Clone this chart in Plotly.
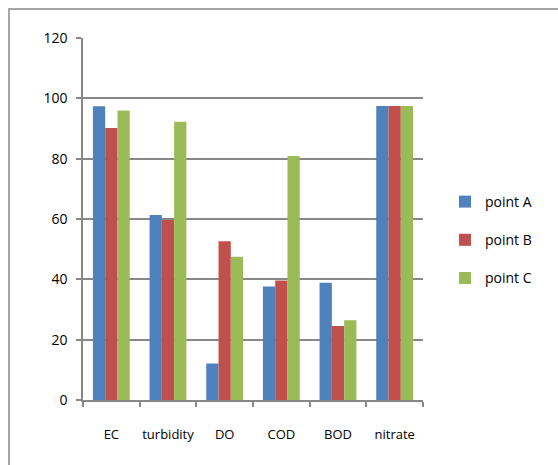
import plotly.graph_objects as go

categories = ["EC", "turbidity", "DO", "COD", "BOD", "nitrate"]
point_a = [97.4, 61.3, 12.1, 37.6, 38.9, 97.5]
point_b = [90.2, 59.7, 52.6, 39.6, 24.5, 97.5]
point_c = [96.0, 92.2, 47.5, 80.9, 26.4, 97.5]
series_names = ["point A", "point B", "point C"]
colors = ["#4F81BD", "#C0504D", "#9BBB59"]
y_ticks = [0, 20, 40, 60, 80, 100, 120]

fig = go.Figure()
for name, vals, col in zip(series_names, [point_a, point_b, point_c], colors):
    fig.add_trace(go.Bar(x=categories, y=vals, name=name, marker_color=col,
                         marker_line_width=0, legendgroup=name))

W, H = 558, 465
l, r, t, b = 83, 135, 38, 65
pw = W - l - r
ph = H - t - b

fig.update_layout(
    width=W, height=H,
    margin=dict(l=l, r=r, t=t, b=b, autoexpand=False),
    paper_bgcolor="white", plot_bgcolor="white",
    barmode="group", bargap=0.35, bargroupgap=0,
    font=dict(family="Open Sans, Liberation Sans, sans-serif", size=14, color="#000"),
    showlegend=True,
    legend=dict(x=(445 - l) / pw, y=(t + ph - 240) / ph, xanchor="left", yanchor="middle",
                traceorder="grouped", tracegroupgap=17, font=dict(size=14),
                bgcolor="rgba(0,0,0,0)"),
    xaxis=dict(type="category", showline=True, linecolor="#888", linewidth=1.5,
               ticks="outside", tickson="boundaries", ticklen=5, tickcolor="#888",
               tickwidth=1.5, showgrid=False, tickfont=dict(size=13), tickangle=0,
               automargin=False, ticklabelstandoff=22),
    yaxis=dict(range=[0, 120], tickvals=y_ticks, showline=True, linecolor="#888",
               linewidth=1.5, ticks="outside", ticklen=5, tickcolor="#888", tickwidth=1.5,
               showgrid=True, gridcolor="#888", gridwidth=1.5, zeroline=False,
               tickfont=dict(size=14), ticklabelstandoff=6, automargin=False),
    shapes=[dict(type="rect", xref="paper", yref="paper",
                 x0=(9 - l) / pw, x1=3, y0=-3, y1=(t + ph - 9) / ph,
                 line=dict(color="#888", width=1.5), layer="below")],
)

fig.write_html("out.html", config={"displayModeBar": False},
               post_script="document.body.style.margin='0';document.body.style.overflow='hidden';")
